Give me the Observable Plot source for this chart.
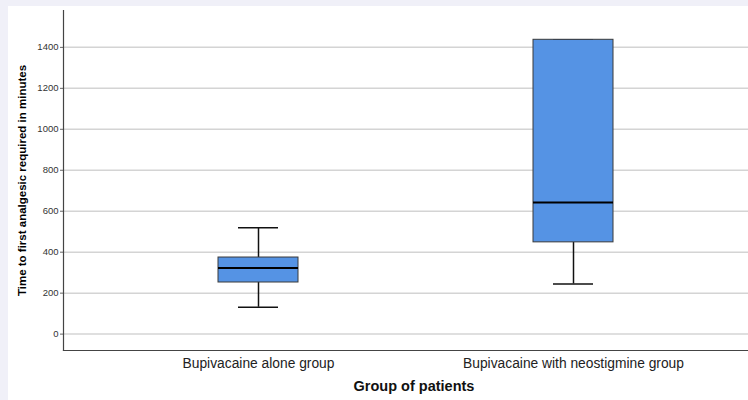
<!DOCTYPE html>
<html>
<head>
<meta charset="utf-8">
<script src="https://cdn.jsdelivr.net/npm/d3@7"></script>
<script src="https://cdn.jsdelivr.net/npm/@observablehq/plot@0.6"></script>
<style>
  html, body { margin: 0; padding: 0; background: #f0f0f8; }
  #panel { position: absolute; left: 8px; top: 6px; width: 740px; height: 394px; background: #fff; }
  svg { display: block; }
</style>
</head>
<body>
<div id="panel"></div>
<script>
const groups = ["Bupivacaine alone group", "Bupivacaine with neostigmine group"];
const whiskerLow = [131, 245];
const q1 = [252, 448];
const median = [323, 642];
const q3 = [374, 1437];
const whiskerHigh = [519, 1437];
const yTicks = [0, 200, 400, 600, 800, 1000, 1200, 1400];
const yLabel = "Time to first analgesic required in minutes";
const xLabel = "Group of patients";

const data = groups.map((g, i) => ({
  group: g, lo: whiskerLow[i], q1: q1[i], med: median[i], q3: q3[i], hi: whiskerHigh[i]
}));

const font = "Arial, 'Liberation Sans', sans-serif";

const chart = Plot.plot({
  width: 740,
  height: 394,
  marginLeft: 55,
  marginRight: 0,
  marginTop: 4,
  marginBottom: 50,
  style: { fontFamily: font, background: "transparent", color: "#222" },
  x: { type: "band", domain: groups, paddingInner: 0.747, paddingOuter: 0.4575, align: 0.533, label: null },
  y: { domain: [-80, 1580], label: null },
  marks: [
    Plot.gridY(yTicks, { stroke: "#d4d4d4", strokeOpacity: 1, strokeWidth: 1.5 }),
    Plot.axisY(yTicks, { tickSize: 3, tickPadding: 2, fontSize: 9.5, stroke: "#666", label: null, fill: "#333", tickFormat: d => String(d) }),
    Plot.axisX({ tickSize: 0, tickPadding: 8, fontSize: 13.8, label: null, fill: "#222" }),
    Plot.ruleX(data, { x: "group", y1: "lo", y2: "q1", stroke: "#111", strokeWidth: 1.5 }),
    Plot.ruleX(data, { x: "group", y1: "q3", y2: "hi", stroke: "#111", strokeWidth: 1.5 }),
    Plot.tickY(data, { x: "group", y: "lo", stroke: "#111", strokeWidth: 1.5, insetLeft: 20, insetRight: 20 }),
    Plot.tickY(data, { x: "group", y: "hi", stroke: "#111", strokeWidth: 1.5, insetLeft: 20, insetRight: 20 }),
    Plot.barY(data, { x: "group", y1: "q1", y2: "q3", fill: "#5593e4", stroke: "#3a3a3a", strokeWidth: 1 }),
    Plot.tickY(data, { x: "group", y: "med", stroke: "#000", strokeWidth: 2 }),
    Plot.frame({ anchor: "left", stroke: "#444", strokeWidth: 1.2 }),
    Plot.frame({ anchor: "bottom", stroke: "#444", strokeWidth: 1.2 }),
    Plot.text([yLabel], { frameAnchor: "left", textAnchor: "middle", rotate: -90, dx: -41, fontSize: 11.5, fontWeight: "bold", fill: "#000" }),
    Plot.text([xLabel], { frameAnchor: "bottom", dy: 40, dx: 8, fontSize: 14.5, fontWeight: "bold", fill: "#111" })
  ]
});
document.getElementById("panel").appendChild(chart);
</script>
</body>
</html>
